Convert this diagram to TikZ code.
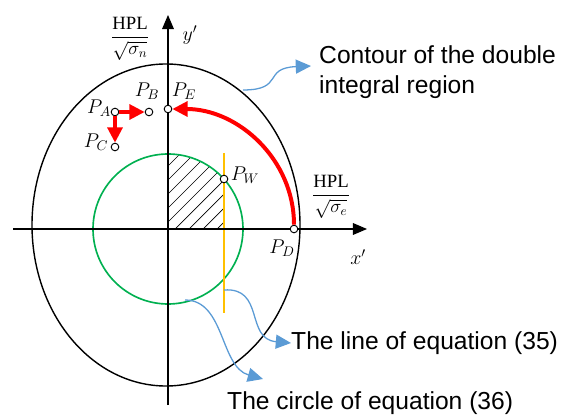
\RequirePackage{fix-cm}
\documentclass[tikz,border=0pt]{standalone}
\usepackage{amsmath}
\usepackage{fontspec}
\setmainfont{Liberation Sans}
\newfontfamily\hplfont{Liberation Serif}
\definecolor{ctRed}{RGB}{255,0,0}
\definecolor{ctGreen}{RGB}{0,176,80}
\definecolor{ctYellow}{RGB}{255,192,0}
\definecolor{ctBlue}{RGB}{91,155,213}
\usetikzlibrary{arrows.meta,positioning}

\begin{document}
\begin{tikzpicture}[x=0.03cm,y=0.03cm,
    ptmark/.style={circle, draw, fill=white, inner sep=0pt, minimum size=6.5pt, line width=0.8pt},
    plabel/.style={font=\fontsize{17}{20}\selectfont, inner sep=0pt},
    fraclabel/.style={font=\fontsize{16}{19}\selectfont, inner sep=0pt},
    notetext/.style={font=\fontsize{21}{25.5}\selectfont, align=left, anchor=west, inner sep=0pt},
    redarrow/.style={ctRed, line width=3.4pt, -{Triangle[length=13pt,width=12.5pt]}},
    bluearrow/.style={ctBlue, line width=1.1pt, -{Triangle[length=13pt,width=12pt]}},
    axisarrow/.style={line width=0.9pt, -{Triangle[length=12pt,width=10pt]}}]
    \useasboundingbox (0,0) rectangle (567,417);
    \def\rc{75}  % radius of the circle
    \def\xl{224} % abscissa of the line

    \coordinate (O) at (168,188);

    % hatched part of the double integral region
    \begin{scope}
        \clip (O) rectangle (\xl,264);
        \clip (O) circle[radius=\rc];
        \foreach \k in {-7,...,4}
            \draw[line width=0.6pt] ({175+14*\k},188) -- ++(100,100);
    \end{scope}

    % circle and line
    \draw[ctGreen, line width=1.4pt] (O) circle[radius=\rc];
    \draw[ctYellow, line width=1.4pt] (\xl,264) -- (\xl,104);

    % axes
    \draw[axisarrow] (13,188) -- (367,188);
    \draw[axisarrow] (168,12) -- (168,402);

    % contour
    \draw[line width=1.2pt] (166,192) ellipse[x radius=134, y radius=161];

    % points
    \node[ptmark] (pA) at (115,305) {};
    \node[ptmark] (pB) at (149,305) {};
    \node[ptmark] (pC) at (115,270) {};
    \node[ptmark] (pE) at (168,308) {};
    \node[ptmark] (pD) at (294,188) {};
    \node[ptmark] (pW) at (\xl,238) {};

    % red moves
    \draw[redarrow] (pD) to[out=90,in=0] (pE);
    \draw[redarrow] (pA) -- (pB);
    \draw[redarrow] (pA) -- (pC);

    % point labels
    \node[plabel] (lA) at (99,309) {$P_A$};
    \node[plabel] (lB) at (147,326) {$P_B$};
    \node[plabel] (lE) at (184,326) {$P_E$};
    \node[plabel] (lC) at (96,275) {$P_C$};
    \node[plabel] (lW) at (245,242) {$P_W$};
    \node[plabel] (lD) at (282,169) {$P_D$};

    % axis labels
    \node[plabel] (ly) at (190,382) {$y'$};
    \node[plabel] (lx) at (358,160) {$x'$};
    \node[fraclabel] (hn) at (130,378)
        {$\dfrac{\text{\hplfont HPL}}{\sqrt{\sigma_n}}$};
    \node[fraclabel] (he) at (331,220)
        {$\dfrac{\text{\hplfont HPL}}{\sqrt{\sigma_e}}$};

    % notes
    \node[notetext] (cont) at (319,345) {Contour of the double\\integral region};
    \node[notetext] (eq35) at (291,74) {The line of equation (35)};
    \node[notetext] (eq36) at (227,14) {The circle of equation (36)};

    % blue pointers
    \coordinate (sE) at (243,327);
    \coordinate (tE) at (311,351);
    \coordinate (sL) at (\xl,127);
    \coordinate (sC) at (185,117);
    \coordinate (tC) at (263,38);
    \draw[bluearrow] (sE) .. controls (285,327) and (262,349) .. (tE);
    \draw[bluearrow] (sL) .. controls (265,130) and (245,78) .. (eq35.west);
    \draw[bluearrow] (sC) .. controls (225,117) and (220,50) .. (tC);
\end{tikzpicture}
\end{document}
